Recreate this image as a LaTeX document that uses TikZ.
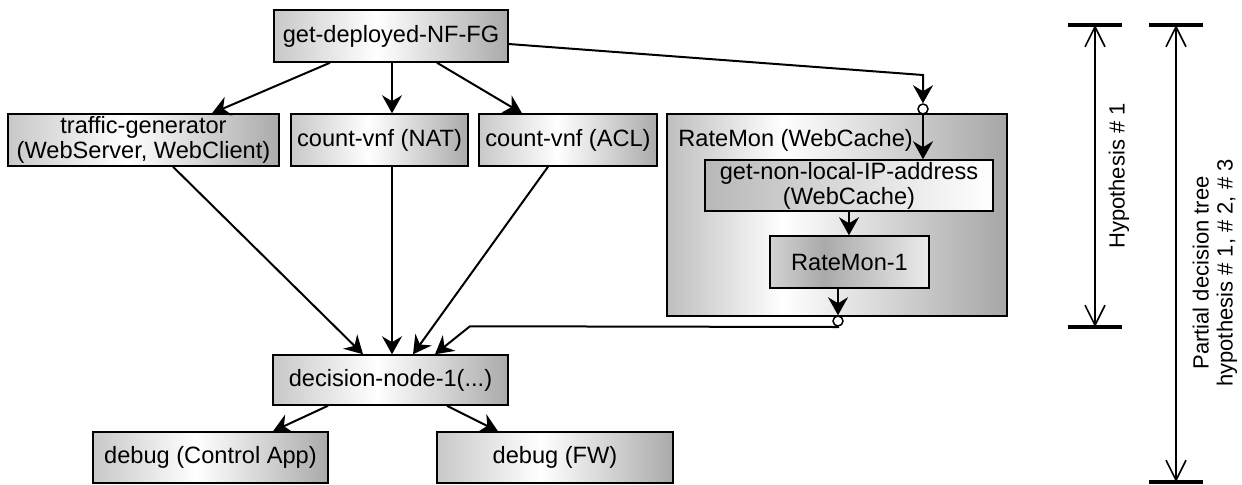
\documentclass[tikz,border=0pt]{standalone}
\usepackage{fontspec}
\setmainfont{Liberation Sans}
\usetikzlibrary{arrows.meta,calc}

% box fills
\definecolor{shL}{HTML}{C8C8C8}
\definecolor{shR}{HTML}{AAAAAA}
\definecolor{grpL}{HTML}{BEBEBE}
\definecolor{grpR}{HTML}{A6A6A6}
\definecolor{ipL}{HTML}{B8B8B8}
\definecolor{rmL}{HTML}{D2D2D2}
\definecolor{rmM}{HTML}{AAAAAA}
\definecolor{rmR}{HTML}{EBEBEB}

\pgfdeclarehorizontalshading{plainbox}{100bp}{color(0bp)=(shL); color(25bp)=(shL); color(47bp)=(white); color(75bp)=(shR); color(100bp)=(shR)}
\pgfdeclarehorizontalshading{groupbox}{100bp}{color(0bp)=(grpL); color(25bp)=(grpL); color(42bp)=(white); color(75bp)=(grpR); color(100bp)=(grpR)}
\pgfdeclarehorizontalshading{ipbox}{100bp}{color(0bp)=(ipL); color(25bp)=(ipL); color(75bp)=(white); color(100bp)=(white)}
\pgfdeclarehorizontalshading{rmbox}{100bp}{color(0bp)=(rmL); color(25bp)=(rmL); color(42bp)=(rmM); color(75bp)=(rmR); color(100bp)=(rmR)}

\tikzset{
  box/.style={draw=black, line width=0.75pt, shading=plainbox, align=center,
    font=\fontsize{11.8}{12.5}\selectfont, inner sep=0pt},
  conn/.style={line width=1pt, -{Stealth[length=9pt,width=10pt,inset=3pt]}},
  joint/.style={circle, draw=black, fill=white, line width=0.75pt, minimum size=5pt, inner sep=0pt},
  bar/.style={line width=1.6pt},
  span/.style={line width=0.8pt, {Straight Barb[length=10pt,width=10pt]}-{Straight Barb[length=10pt,width=10pt]}},
  sidelabel/.style={rotate=90, align=center, font=\fontsize{11}{12}\selectfont},
}

\begin{document}
\begin{tikzpicture}[x=0.5pt, y=-0.5pt]
\useasboundingbox (0,0) rectangle (1242,484);

% main tree
\node[box, minimum width=117pt, minimum height=26pt] (top) at (391,36) {get-deployed-NF-FG};
\node[box, minimum width=135.5pt, minimum height=26pt] (trf) at (143.5,140) {traffic-generator\\(WebServer, WebClient)};
\node[box, minimum width=88.5pt, minimum height=26pt] (nat) at (379.5,140) {count-vnf (NAT)};
\node[box, minimum width=89pt, minimum height=26pt] (acl) at (568,140) {count-vnf (ACL)};

% RateMon group
\node[box, shading=groupbox, minimum width=170pt, minimum height=101pt] (grp) at (837,215) {};
\node[anchor=west, inner sep=0pt, font=\fontsize{11.8}{12.5}\selectfont] (grplbl) at (678,140) {RateMon (WebCache)};
\node[box, shading=ipbox, minimum width=144pt, minimum height=25.5pt] (getnl) at (849,185.5) {get-non-local-IP-address\\(WebCache)};
\node[box, shading=rmbox, minimum width=79.5pt, minimum height=26pt] (rm1) at (849.5,262) {RateMon-1};
\node[joint] (j1) at (923,109) {};
\node[joint] (j2) at (838,321) {};

\node[box, minimum width=117.5pt, minimum height=25pt] (dec) at (390.5,380) {decision-node-1(...)};
\node[box, minimum width=117.5pt, minimum height=25.5pt] (dca) at (210.5,457.5) {debug (Control App)};
\node[box, minimum width=118pt, minimum height=25.5pt] (dfw) at (555,457.5) {debug (FW)};

% connectors
\draw[conn] ($(top.south)+(-61,0)$) -- ($(trf.north)+(68.5,0)$);
\draw[conn] ($(top.south)+(1,0)$) -- ($(nat.north)+(12.5,0)$);
\draw[conn] ($(top.south)+(46,0)$) -- ($(acl.north)+(-46,0)$);
\draw[conn] ($(top.east)+(0,8)$) -- ($(j1)+(0,-34)$) -- (j1.north);
\draw[conn] (j1.south) -- (j1.south |- getnl.north);
\draw[conn] (getnl.south) -- (getnl.south |- rm1.north);
\draw[conn] (rm1.south -| j2) -- (j2.north);
\draw[conn] (j2.south) -- ($(j2)+(0,6)$) -- ($(dec.north)+(79.5,-28)$) -- ($(dec.north)+(44.5,0)$);

\draw[conn] ($(trf.south)+(29.5,0)$) -- ($(dec.north)+(-27.5,0)$);
\draw[conn] ($(nat.south)+(12.5,0)$) -- ($(dec.north)+(1.5,0)$);
\draw[conn] ($(acl.south)+(-20,0)$) -- ($(dec.north)+(22.5,0)$);
\draw[conn] ($(dec.south)+(-62.5,0)$) -- ($(dca.north)+(62.5,0)$);
\draw[conn] ($(dec.south)+(56.5,0)$) -- ($(dfw.north)+(-57,0)$);

% extents on the right
\coordinate (h1t) at (1095,25);
\coordinate (h1b) at (1095,327);
\coordinate (h2t) at (1176,25);
\coordinate (h2b) at (1176,482);
\draw[bar] ($(h1t)+(-27,0)$) -- ($(h1t)+(27,0)$);
\draw[bar] ($(h1b)+(-27,0)$) -- ($(h1b)+(27,0)$);
\draw[bar] ($(h2t)+(-27,0)$) -- ($(h2t)+(27,0)$);
\draw[bar] ($(h2b)+(-27,0)$) -- ($(h2b)+(27,0)$);
\draw[span] (h1t) -- (h1b);
\draw[span] (h2t) -- (h2b);
\node[sidelabel] (hyp) at (1119,176) {Hypothesis \# 1};
\node[sidelabel] (pdt) at (1215,273) {Partial decision tree\\hypothesis \# 1, \# 2, \# 3};
\end{tikzpicture}
\end{document}
